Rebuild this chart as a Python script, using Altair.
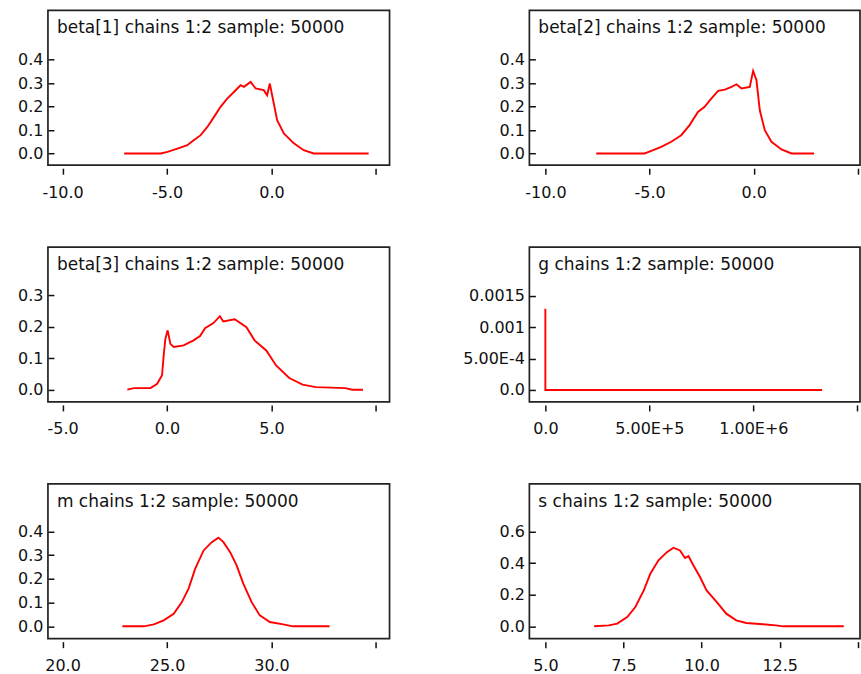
import json
import altair as alt
import pandas as pd

FONT = "DejaVu Sans"

# ---- data ----
b1_x = [-7.05, -5.30, -4.98, -4.50, -4.03, -3.71, -3.39, -3.07, -2.75, -2.44, -2.12, -1.80, -1.48,
        -1.32, -1.00, -0.76, -0.37, -0.21, -0.08, 0.03, 0.27, 0.59, 1.07, 1.54, 2.02, 4.65]
b1_y = [0, 0, 0.007, 0.021, 0.035, 0.057, 0.078, 0.113, 0.156, 0.199, 0.234, 0.262, 0.291,
        0.284, 0.305, 0.277, 0.270, 0.248, 0.298, 0.248, 0.142, 0.085, 0.043, 0.014, 0, 0]

b2_x = [-7.56, -5.24, -4.92, -4.44, -3.96, -3.48, -3.08, -2.68, -2.36, -2.04, -1.71, -1.39, -1.07,
        -0.83, -0.59, -0.19, -0.03, 0.13, 0.29, 0.53, 0.85, 1.33, 1.81, 2.90]
b2_y = [0, 0, 0.011, 0.028, 0.050, 0.078, 0.121, 0.177, 0.199, 0.234, 0.267, 0.272, 0.284,
        0.295, 0.277, 0.284, 0.352, 0.312, 0.184, 0.099, 0.050, 0.017, 0, 0]

b3_x = [-1.90, -1.58, -0.79, -0.47, -0.24, -0.16, -0.08, 0.03, 0.16, 0.32, 0.79, 1.27, 1.58, 1.82,
        2.22, 2.53, 2.69, 3.24, 3.80, 4.19, 4.75, 5.22, 5.85, 6.49, 7.12, 8.54, 8.86, 9.38]
b3_y = [0, 0.005, 0.005, 0.019, 0.046, 0.109, 0.162, 0.189, 0.146, 0.136, 0.141, 0.157, 0.171, 0.196,
        0.212, 0.234, 0.217, 0.224, 0.199, 0.157, 0.125, 0.077, 0.037, 0.016, 0.008, 0.005, 0, 0]

g_x = [0, 0, 1330000]
g_y = [0.00129, 0, 0]

m_x = [22.86, 23.89, 24.37, 24.84, 25.32, 25.71, 26.03, 26.35, 26.75, 27.14, 27.46, 27.70, 28.02,
       28.33, 28.65, 29.05, 29.44, 29.92, 30.56, 31.03, 32.78]
m_y = [0, 0, 0.008, 0.025, 0.053, 0.102, 0.159, 0.243, 0.320, 0.355, 0.374, 0.355, 0.313,
       0.257, 0.180, 0.102, 0.046, 0.018, 0.008, 0, 0]

s_x = [6.56, 7.03, 7.30, 7.62, 7.88, 8.15, 8.36, 8.62, 8.89, 9.10, 9.31, 9.47, 9.58, 9.74, 9.95,
       10.16, 10.48, 10.79, 11.11, 11.43, 11.96, 12.38, 12.60, 14.55]
s_y = [0, 0.006, 0.017, 0.059, 0.122, 0.227, 0.333, 0.417, 0.469, 0.497, 0.480, 0.432, 0.444, 0.385,
       0.312, 0.227, 0.154, 0.080, 0.038, 0.021, 0.013, 0.006, 0, 0]

titles = ["beta[1] chains 1:2 sample: 50000", "beta[2] chains 1:2 sample: 50000",
          "beta[3] chains 1:2 sample: 50000", "g chains 1:2 sample: 50000",
          "m chains 1:2 sample: 50000", "s chains 1:2 sample: 50000"]

b_xticks = [-10, -5, 0, 5]
b_xlabels = ["-10.0", "-5.0", "0.0", ""]
b3_xticks = [-5, 0, 5, 10]
b3_xlabels = ["-5.0", "0.0", "5.0", ""]
g_xticks = [0, 500000, 1000000, 1500000]
g_xlabels = ["0.0", "5.00E+5", "1.00E+6", ""]
m_xticks = [20, 25, 30, 35]
m_xlabels = ["20.0", "25.0", "30.0", ""]
s_xticks = [5, 7.5, 10, 12.5, 15]
s_xlabels = ["5.0", "7.5", "10.0", "12.5", ""]

y4_ticks = [0, 0.1, 0.2, 0.3, 0.4]
y4_labels = ["0.0", "0.1", "0.2", "0.3", "0.4"]
y3_ticks = [0, 0.1, 0.2, 0.3]
y3_labels = ["0.0", "0.1", "0.2", "0.3"]
g_yticks = [0, 0.0005, 0.001, 0.0015]
g_ylabels = ["0.0", "5.00E-4", "0.001", "0.0015"]
s_yticks = [0, 0.2, 0.4, 0.6]
s_ylabels = ["0.0", "0.2", "0.4", "0.6"]


def lab_expr(ticks, labels):
    return f"{json.dumps(labels)}[indexof({json.dumps(ticks)}, datum.value)]"


def panel(title, xs, ys, xdom, ydom, xt, xl, yt, yl, width, yext):
    df = pd.DataFrame({"x": xs, "y": ys, "i": list(range(len(xs)))})
    line = alt.Chart(df).mark_line(color="#ff0000", strokeWidth=1.9).encode(
        x=alt.X("x:Q", scale=alt.Scale(domain=xdom, nice=False, zero=False),
                axis=alt.Axis(values=xt, labelExpr=lab_expr(xt, xl), title=None,
                              domain=False, grid=False, offset=3, tickSize=6,
                              labelPadding=10, labelFlush=False, labelOverlap=False)),
        y=alt.Y("y:Q", scale=alt.Scale(domain=ydom, nice=False, zero=False),
                axis=alt.Axis(values=yt, labelExpr=lab_expr(yt, yl), title=None,
                              domain=False, grid=False, offset=-6, tickSize=6,
                              labelPadding=5, labelFlush=False, labelOverlap=False,
                              minExtent=yext, maxExtent=yext)),
        order="i:Q",
    )
    label = alt.Chart(pd.DataFrame({"t": [title]})).mark_text(
        align="left", baseline="alphabetic", font=FONT, fontSize=17, color="#111111",
    ).encode(x=alt.value(9), y=alt.value(23), text="t:N")
    return alt.layer(line, label).properties(width=width, height=155)


W1, W2 = 342, 331
p1 = panel(titles[0], b1_x, b1_y, [-10.70, 5.65], [-0.05, 0.61], b_xticks, b_xlabels, y4_ticks, y4_labels, W1, 53)
p2 = panel(titles[1], b2_x, b2_y, [-10.77, 5.10], [-0.05, 0.61], b_xticks, b_xlabels, y4_ticks, y4_labels, W2, 77)
p3 = panel(titles[2], b3_x, b3_y, [-5.70, 10.65], [-0.039, 0.454], b3_xticks, b3_xlabels, y3_ticks, y3_labels, W1, 53)
p4 = panel(titles[3], g_x, g_y, [-76770, 1512400], [-0.00019, 0.00227], g_xticks, g_xlabels, g_yticks, g_ylabels, W2, 77)
p5 = panel(titles[4], m_x, m_y, [19.30, 35.65], [-0.052, 0.601], m_xticks, m_xlabels, y4_ticks, y4_labels, W1, 53)
p6 = panel(titles[5], s_x, s_y, [4.489, 15.07], [-0.078, 0.901], s_xticks, s_xlabels, s_yticks, s_ylabels, W2, 77)

chart = alt.concat(p1, p2, p3, p4, p5, p6, columns=2, spacing={"row": 45, "column": 67},
                   align="each", bounds="full").properties(
    padding={"left": 0, "top": 9, "right": 0, "bottom": 0},
    background="white",
).configure_view(
    stroke="#222222", strokeWidth=1.7,
).configure_axis(
    labelFont=FONT, labelFontSize=16, labelColor="#111111",
    tickColor="#111111", tickWidth=1.5,
)

chart.save("out.html", embed_options={"renderer": "svg", "actions": False})
